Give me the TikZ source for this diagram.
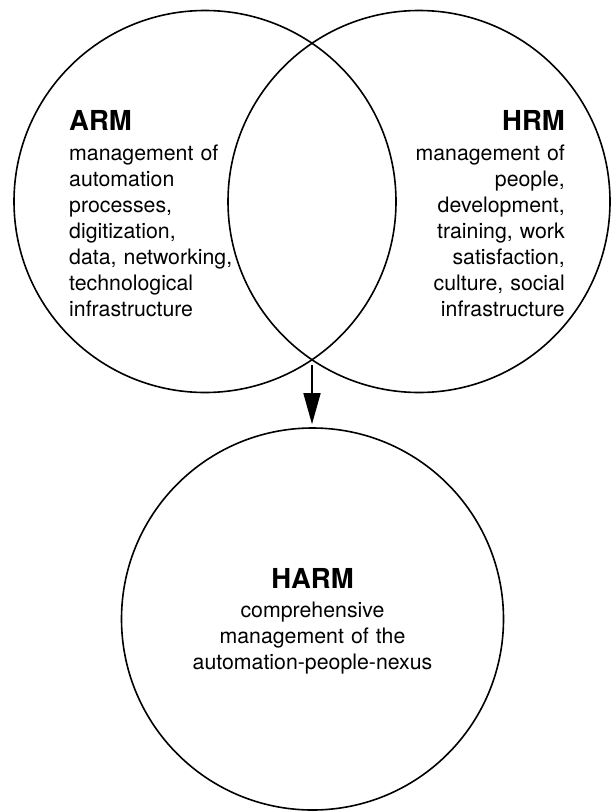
\documentclass[tikz,border=0pt]{standalone}
\usepackage{fontspec}
\setmainfont{TeX Gyre Heros}
\usetikzlibrary{arrows.meta}

\begin{document}
\begin{tikzpicture}[x=1pt, y=-1pt,
        ring/.style={circle, draw, line width=1.6pt, minimum size=382pt, inner sep=0pt},
        headline/.style={font=\bfseries\fontsize{27.5}{30}\selectfont, inner sep=0pt},
        blurb/.style={font=\fontsize{21.3}{26}\selectfont, inner sep=0pt, text width=#1}]
        \useasboundingbox (0, 0) rectangle (613, 811);

        \node[ring] (arm) at (205, 201.5) {};
        \node[ring] (hrm) at (419, 201.5) {};
        \node[ring] (harm) at (312.5, 619) {};
        \coordinate (meet) at (312, 359.7);
        \draw[-{Triangle[length=31pt, width=17pt]}, line width=1.6pt, shorten <=5pt, shorten >=3pt] (meet) -- (meet |- harm.north);

        \node[headline, anchor=base west] (armtitle) at (69, 130) {ARM};
        \node[blurb=200pt, align=left, anchor=base west] (armtext) at (69, 160)
          {management of\\ automation\\ processes,\\ digitization,\\ data, networking,\\ technological\\ infrastructure};

        \node[headline, anchor=base east] (hrmtitle) at (565, 130) {HRM};
        \node[blurb=200pt, align=right, anchor=base east] (hrmtext) at (565, 160)
          {management of\\ people,\\ development,\\ training, work\\ satisfaction,\\ culture, social\\ infrastructure};

        \node[headline, anchor=base] (harmtitle) at (312.5, 588) {HARM};
        \node[blurb=280pt, align=center, anchor=base] (harmtext) at (312.5, 617)
          {comprehensive\\ management of the\\ automation-people-nexus};
\end{tikzpicture}
\end{document}
